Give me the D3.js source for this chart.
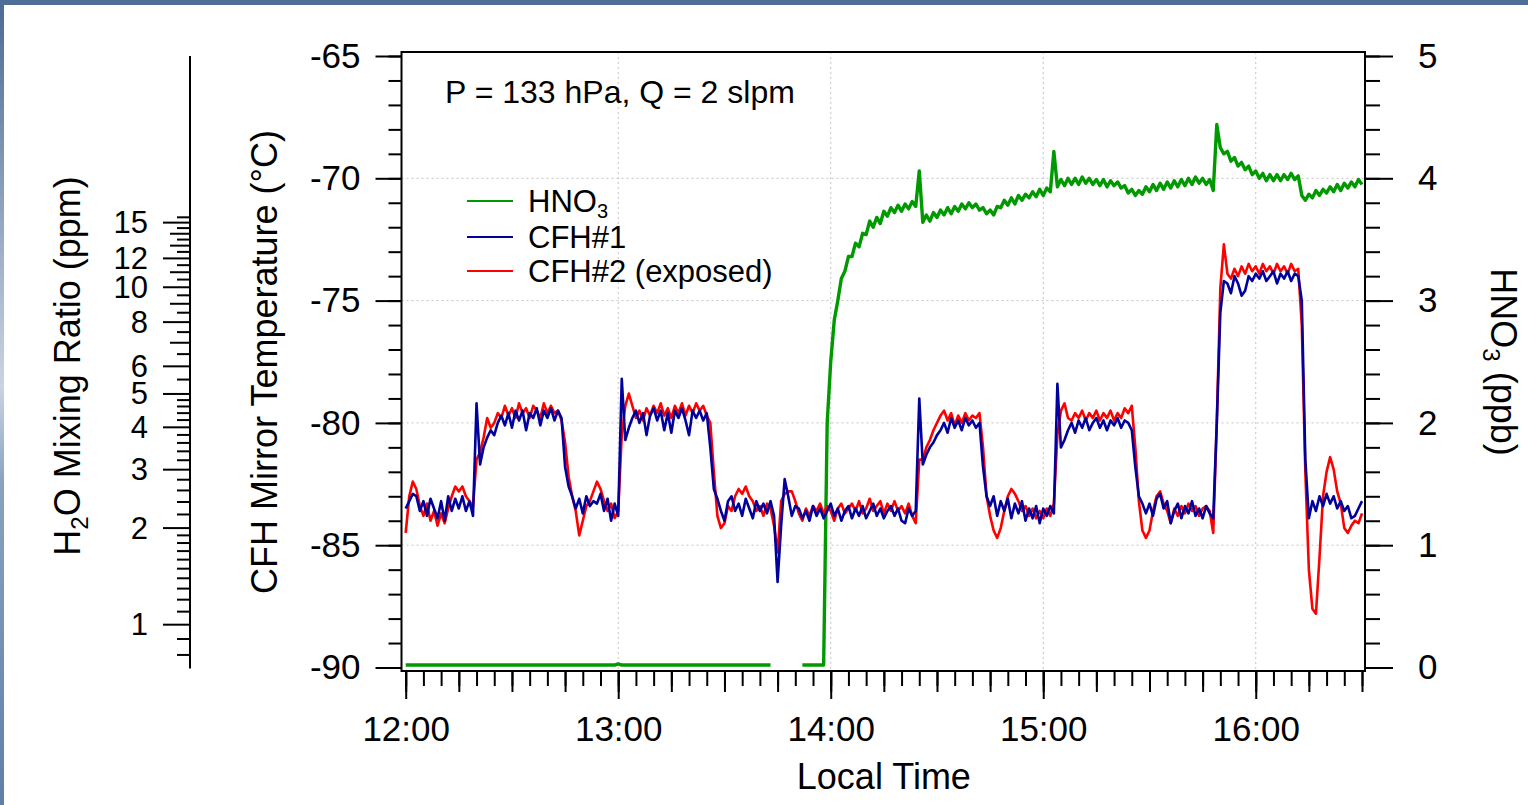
<!DOCTYPE html>
<html>
<head>
<meta charset="utf-8">
<script src="https://cdn.jsdelivr.net/npm/d3@7"></script>
<style>
  html, body { margin: 0; padding: 0; background: #fff; }
  svg { display: block; font-family: "Liberation Sans", Arial, Helvetica, sans-serif; }
  .tick line { stroke: #000; stroke-width: 2; }
  .tick text { fill: #000; }
</style>
</head>
<body>
<svg id="chart" width="1528" height="805"></svg>
<script>
// minutes after 12:00, one value per minute
const cfh1 = [
  -83.5,-83.2,-82.9,-83.0,-83.6,-83.2,-83.8,-83.1,-83.5,-83.9,
  -83.2,-84.0,-83.0,-83.6,-83.1,-83.5,-83.0,-83.6,-83.2,-83.8,
  -79.2,-81.7,-81.0,-80.6,-80.3,-80.5,-80.0,-79.7,-80.1,-79.6,
  -80.2,-79.5,-79.9,-79.5,-80.3,-79.6,-79.8,-79.4,-80.1,-79.5,
  -79.8,-79.4,-79.9,-79.5,-79.8,-81.8,-82.6,-83.0,-83.5,-83.1,
  -83.7,-83.0,-83.4,-83.2,-83.3,-82.9,-83.6,-83.1,-84.0,-83.3,
  -83.8,-78.2,-80.7,-80.2,-79.8,-79.5,-80.0,-79.6,-80.5,-79.7,
  -79.4,-79.9,-79.5,-80.3,-79.6,-80.4,-79.5,-79.8,-79.4,-79.9,
  -80.5,-79.5,-79.8,-79.5,-79.9,-79.6,-81.0,-82.7,-83.1,-83.6,
  -84.0,-83.2,-83.0,-83.6,-83.3,-83.8,-83.1,-83.5,-83.9,-83.2,
  -83.6,-83.3,-83.7,-83.2,-83.8,-86.5,-84.2,-82.3,-83.0,-83.8,
  -83.4,-83.5,-83.9,-83.6,-84.0,-83.4,-83.8,-83.5,-83.9,-83.6,
  -83.3,-83.8,-83.5,-84.0,-83.6,-83.4,-83.9,-83.5,-83.8,-83.4,
  -83.9,-83.6,-83.3,-83.8,-83.5,-83.9,-83.6,-83.4,-83.8,-83.5,
  -84.0,-84.1,-83.5,-83.8,-83.6,-79.0,-81.7,-81.3,-81.0,-80.8,
  -80.5,-80.3,-80.0,-80.4,-79.8,-80.2,-79.9,-80.3,-79.8,-80.1,
  -79.9,-80.2,-80.0,-81.8,-83.0,-83.4,-83.0,-83.8,-83.2,-83.6,
  -83.1,-83.9,-83.3,-83.7,-83.2,-84.0,-83.5,-83.9,-83.4,-84.1,
  -83.5,-83.8,-83.4,-83.7,-78.4,-81.0,-80.7,-80.3,-80.0,-80.4,
  -79.9,-80.2,-79.8,-80.3,-80.0,-79.8,-80.2,-79.9,-80.3,-79.9,
  -80.1,-79.8,-80.2,-79.9,-80.0,-80.3,-81.8,-83.0,-83.3,-83.7,
  -83.3,-83.8,-83.1,-82.9,-83.5,-83.2,-84.1,-83.6,-83.3,-83.9,
  -83.4,-83.7,-83.2,-83.8,-83.5,-83.9,-83.4,-83.7,-83.9,-80.0,
  -75.5,-74.2,-74.3,-74.7,-74.0,-74.3,-74.8,-74.6,-74.0,-74.2,
  -73.9,-74.1,-73.8,-74.2,-74.0,-73.8,-74.3,-73.9,-74.1,-73.8,
  -74.2,-73.9,-74.0,-75.0,-81.5,-83.9,-83.2,-83.6,-83.0,-83.4,
  -82.9,-83.3,-83.0,-83.5,-83.2,-83.6,-83.4,-83.9,-83.8,-83.5,
  -83.2
];

const cfh2 = [
  -84.5,-83.0,-82.4,-82.7,-83.4,-83.8,-83.3,-84.0,-83.6,-84.2,
  -83.7,-84.1,-83.5,-83.0,-82.6,-82.8,-82.6,-83.0,-83.2,-83.4,
  -81.5,-81.2,-80.6,-79.8,-80.2,-80.0,-79.6,-79.8,-79.3,-79.7,
  -79.4,-79.8,-79.2,-79.6,-79.4,-79.8,-79.3,-79.5,-79.8,-79.2,
  -79.6,-79.3,-79.6,-79.5,-79.9,-80.8,-82.2,-83.0,-83.6,-84.6,
  -84.0,-83.4,-83.2,-82.8,-82.4,-82.7,-83.2,-83.6,-83.3,-83.9,
  -83.6,-80.5,-79.3,-78.8,-79.3,-79.8,-79.5,-79.9,-79.4,-79.7,
  -79.3,-79.6,-79.2,-79.7,-79.4,-79.8,-79.3,-79.6,-79.2,-79.7,
  -79.3,-79.6,-79.2,-79.5,-79.3,-79.7,-80.0,-82.0,-83.8,-84.3,
  -84.1,-83.4,-83.6,-83.0,-82.7,-82.9,-82.6,-83.0,-83.2,-83.6,
  -83.4,-83.8,-83.3,-83.5,-84.2,-85.3,-83.2,-82.9,-82.8,-82.8,
  -83.2,-83.7,-84.0,-83.5,-83.8,-83.4,-83.6,-83.3,-83.7,-83.4,
  -83.6,-84.0,-83.5,-83.3,-83.7,-83.5,-83.3,-83.6,-83.2,-83.7,
  -83.5,-83.1,-83.6,-83.4,-83.2,-83.7,-83.3,-83.6,-83.2,-83.6,
  -83.4,-83.7,-83.3,-83.8,-84.1,-81.5,-81.5,-81.0,-80.7,-80.3,
  -80.0,-79.7,-79.5,-79.9,-79.6,-80.1,-79.7,-80.0,-79.6,-79.9,
  -79.7,-79.8,-79.6,-81.0,-83.0,-83.8,-84.4,-84.7,-84.3,-83.6,
  -83.0,-82.7,-82.9,-83.2,-83.6,-83.4,-83.8,-83.5,-83.9,-83.6,
  -83.9,-83.5,-83.8,-83.3,-80.5,-79.5,-79.2,-79.8,-79.9,-79.6,
  -79.8,-79.5,-79.9,-79.6,-79.8,-79.5,-79.9,-79.6,-79.8,-79.5,
  -79.9,-79.6,-79.8,-79.4,-79.6,-79.3,-81.0,-83.2,-84.4,-84.7,
  -84.4,-83.6,-83.0,-82.8,-83.3,-83.6,-84.1,-83.5,-83.8,-83.4,
  -83.7,-83.3,-83.6,-83.4,-83.8,-83.5,-83.4,-83.6,-84.5,-80.0,
  -74.5,-72.7,-73.9,-74.1,-73.7,-74.0,-73.6,-73.9,-73.5,-73.8,
  -73.6,-73.9,-73.5,-73.8,-73.6,-73.9,-73.5,-73.8,-73.6,-73.9,
  -73.5,-73.8,-73.7,-76.0,-82.0,-86.0,-87.6,-87.8,-85.5,-83.0,
  -82.0,-81.4,-81.9,-82.8,-83.3,-84.3,-84.5,-84.2,-84.0,-84.1,
  -83.7
];

// HNO3 (ppb); null = no data
const hno3 = [
  0.02,0.02,0.02,0.02,0.02,0.02,0.02,0.02,0.02,0.02,
  0.02,0.02,0.02,0.02,0.02,0.02,0.02,0.02,0.02,0.02,
  0.02,0.02,0.02,0.02,0.02,0.02,0.02,0.02,0.02,0.02,
  0.02,0.02,0.02,0.02,0.02,0.02,0.02,0.02,0.02,0.02,
  0.02,0.02,0.02,0.02,0.02,0.02,0.02,0.02,0.02,0.02,
  0.02,0.02,0.02,0.02,0.02,0.02,0.02,0.02,0.02,0.02,
  0.03,0.02,0.02,0.02,0.02,0.02,0.02,0.02,0.02,0.02,
  0.02,0.02,0.02,0.02,0.02,0.02,0.02,0.02,0.02,0.02,
  0.02,0.02,0.02,0.02,0.02,0.02,0.02,0.02,0.02,0.02,
  0.02,0.02,0.02,0.02,0.02,0.02,0.02,0.02,0.02,0.02,
  0.02,0.02,0.02,0.02,null,null,null,null,null,null,
  null,null,0.02,0.02,0.02,0.02,0.02,0.02,0.02,2.00,
  2.50,2.84,3.00,3.18,3.24,3.36,3.36,3.47,3.44,3.55,
  3.54,3.65,3.60,3.68,3.63,3.73,3.69,3.76,3.72,3.78,
  3.73,3.79,3.75,3.81,3.77,4.06,3.64,3.70,3.65,3.72,
  3.68,3.74,3.70,3.76,3.71,3.77,3.73,3.79,3.75,3.80,
  3.76,3.79,3.74,3.76,3.71,3.74,3.70,3.77,3.76,3.82,
  3.78,3.84,3.79,3.86,3.82,3.87,3.84,3.89,3.85,3.91,
  3.86,3.92,3.89,4.22,3.93,3.99,3.94,4.00,3.95,4.00,
  3.95,4.01,3.96,4.00,3.95,3.99,3.94,3.99,3.93,3.98,
  3.94,3.97,3.92,3.94,3.88,3.91,3.86,3.90,3.87,3.93,
  3.89,3.95,3.90,3.96,3.91,3.97,3.92,3.98,3.93,3.99,
  3.94,4.00,3.95,4.01,3.96,4.00,3.95,3.99,3.90,4.44,
  4.25,4.20,4.22,4.14,4.17,4.10,4.13,4.07,4.10,4.03,
  4.06,4.00,4.04,3.98,4.03,3.98,4.03,3.98,4.03,3.99,
  4.04,3.99,4.02,3.86,3.82,3.87,3.84,3.90,3.86,3.91,
  3.88,3.93,3.89,3.95,3.90,3.96,3.92,3.97,3.93,3.99,
  3.95
];

const seriesNames = ["HNO3", "CFH#1", "CFH#2 (exposed)"];
const seriesColors = ["#009a00", "#00009c", "#ff0000"];

const tempTicks = [-90, -85, -80, -75, -70, -65];
const hno3Ticks = [0, 1, 2, 3, 4, 5];
const h2oLabelled = [1, 2, 3, 4, 5, 6, 8, 10, 12, 15];
const h2oMedium = [7, 9, 11, 13, 14];
const h2oMinor = [0.8, 0.9, 1.1, 1.2, 1.3, 1.4, 1.5, 1.6, 1.7, 1.8, 1.9,
  2.2, 2.4, 2.6, 2.8, 3.2, 3.4, 3.6, 3.8, 4.2, 4.4, 4.6, 4.8,
  5.5, 6.5, 7.5, 8.5, 9.5, 10.5, 11.5, 12.5, 13.5, 14.5, 15.5];
const pressurePa = 13300;

const svg = d3.select("#chart");
const W = 1528, H = 805;
const frame = { left: 401.5, right: 1365, top: 52, bottom: 671 };
const h2oAxisX = 190;
const font = "'Liberation Sans', Arial, Helvetica, sans-serif";

// slide-like border
const defs = svg.append("defs");
const edge = defs.append("linearGradient").attr("id", "edge").attr("x1", 0).attr("y1", 0).attr("x2", 0).attr("y2", 1);
edge.append("stop").attr("offset", "0%").attr("stop-color", "#4d6a93");
edge.append("stop").attr("offset", "48%").attr("stop-color", "#c9d4e2");
edge.append("stop").attr("offset", "60%").attr("stop-color", "#8aa2c0");
edge.append("stop").attr("offset", "100%").attr("stop-color", "#5f7fa8");
svg.append("rect").attr("width", W).attr("height", H).attr("fill", "url(#edge)");
svg.append("rect").attr("width", W).attr("height", 5).attr("fill", "#4f6d96");
svg.append("rect").attr("x", 4).attr("y", 5).attr("width", W - 4).attr("height", H - 5).attr("fill", "#fff");

defs.append("clipPath").attr("id", "plot-clip")
  .append("rect")
  .attr("x", frame.left).attr("y", frame.top)
  .attr("width", frame.right - frame.left).attr("height", frame.bottom - frame.top);

const t0 = new Date(2000, 0, 1, 12, 0);
const t1 = new Date(2000, 0, 1, 16, 30);
const x = d3.scaleTime().domain([t0, t1]).range([405.7, 1362]);
const y = d3.scaleLinear().domain([-90, -65]).range([667.5, 56]);
const yR = d3.scaleLinear().domain([0, 5]).range([667.5, 56]);

const timeAt = (i) => d3.timeMinute.offset(t0, i);

// ice saturation vapour pressure (Murphy & Koop 2005), Pa
function eIce(T) {
  return Math.exp(9.550426 - 5723.265 / T + 3.53068 * Math.log(T) - 0.00728332 * T);
}
// frost point (degC) for a mixing ratio in ppm
function frostPoint(ppm) {
  const e = ppm * 1e-6 * pressurePa;
  let lo = 150, hi = 273;
  for (let k = 0; k < 60; k++) {
    const mid = (lo + hi) / 2;
    if (eIce(mid) < e) lo = mid; else hi = mid;
  }
  return (lo + hi) / 2 - 273.15;
}

// grid
const grid = svg.append("g").attr("stroke", "#c4c4c4").attr("stroke-width", 1).attr("stroke-dasharray", "2,3");
grid.selectAll("line.v")
  .data(x.ticks(d3.timeHour.every(1)).filter((d) => d > t0 && d < t1))
  .join("line")
  .attr("x1", (d) => x(d)).attr("x2", (d) => x(d))
  .attr("y1", frame.top).attr("y2", frame.bottom);
grid.selectAll("line.h")
  .data(tempTicks.filter((d) => d > -90 && d < -65))
  .join("line")
  .attr("x1", frame.left).attr("x2", frame.right)
  .attr("y1", (d) => y(d)).attr("y2", (d) => y(d));

// data lines
const plot = svg.append("g").attr("clip-path", "url(#plot-clip)");
const line = d3.line()
  .defined((d) => d != null)
  .x((d, i) => x(timeAt(i)))
  .y((d) => y(d));
const lineR = d3.line()
  .defined((d) => d != null)
  .x((d, i) => x(timeAt(i)))
  .y((d) => yR(d));

plot.append("path").datum(hno3).attr("d", lineR)
  .attr("fill", "none").attr("stroke", seriesColors[0]).attr("stroke-width", 3.4).attr("stroke-linejoin", "round");
plot.append("path").datum(cfh2).attr("d", line)
  .attr("fill", "none").attr("stroke", seriesColors[2]).attr("stroke-width", 2.6).attr("stroke-linejoin", "round");
plot.append("path").datum(cfh1).attr("d", line)
  .attr("fill", "none").attr("stroke", seriesColors[1]).attr("stroke-width", 2.6).attr("stroke-linejoin", "round");

// frame
svg.append("rect")
  .attr("x", frame.left).attr("y", frame.top)
  .attr("width", frame.right - frame.left).attr("height", frame.bottom - frame.top)
  .attr("fill", "none").attr("stroke", "#000").attr("stroke-width", 2);

function noDomain(g) { g.select(".domain").remove(); }

// bottom axis
svg.append("g").attr("transform", `translate(0,${frame.bottom})`)
  .call(d3.axisBottom(x).ticks(d3.timeMinute.every(5)).tickSize(15).tickFormat(""))
  .call(noDomain);
svg.append("g").attr("transform", `translate(0,${frame.bottom})`)
  .call(d3.axisBottom(x).ticks(d3.timeMinute.every(15)).tickSize(21).tickFormat(""))
  .call(noDomain);
svg.append("g").attr("transform", `translate(0,${frame.bottom})`)
  .call(d3.axisBottom(x).ticks(d3.timeHour.every(1)).tickSize(28).tickPadding(17).tickFormat(d3.timeFormat("%H:%M")))
  .call(noDomain)
  .call((g) => g.selectAll("text").attr("font-size", 35).attr("font-family", font));

// left axis
svg.append("g").attr("transform", `translate(${frame.left},0)`)
  .call(d3.axisLeft(y).tickValues(d3.range(-90, -64, 1)).tickSize(13).tickFormat(""))
  .call(noDomain);
svg.append("g").attr("transform", `translate(${frame.left},0)`)
  .call(d3.axisLeft(y).tickValues(tempTicks).tickSize(26).tickPadding(15).tickFormat((d) => String(d)))
  .call(noDomain)
  .call((g) => g.selectAll("text").attr("font-size", 35).attr("font-family", font));

// right axis
svg.append("g").attr("transform", `translate(${frame.right},0)`)
  .call(d3.axisRight(yR).tickValues(d3.range(0, 5.01, 0.2)).tickSize(15).tickFormat(""))
  .call(noDomain);
svg.append("g").attr("transform", `translate(${frame.right},0)`)
  .call(d3.axisRight(yR).tickValues(hno3Ticks).tickSize(28).tickPadding(25).tickFormat(d3.format("d")))
  .call(noDomain)
  .call((g) => g.selectAll("text").attr("font-size", 35).attr("font-family", font));

// H2O mixing ratio axis (frost point at P = 133 hPa)
const h2o = svg.append("g");
h2o.append("line")
  .attr("x1", h2oAxisX).attr("x2", h2oAxisX)
  .attr("y1", y(-65)).attr("y2", y(-90) + 1)
  .attr("stroke", "#000").attr("stroke-width", 2);
const h2oTicks = [
  ...h2oMinor.map((v) => ({ v, len: 13 })),
  ...h2oMedium.map((v) => ({ v, len: 20 })),
  ...h2oLabelled.map((v) => ({ v, len: 27 }))
].filter((d) => frostPoint(d.v) >= -90 && frostPoint(d.v) <= -65);
h2o.selectAll("line.tk")
  .data(h2oTicks)
  .join("line")
  .attr("x1", h2oAxisX).attr("x2", (d) => h2oAxisX - d.len)
  .attr("y1", (d) => y(frostPoint(d.v))).attr("y2", (d) => y(frostPoint(d.v)))
  .attr("stroke", "#000").attr("stroke-width", 2);
h2o.selectAll("text")
  .data(h2oLabelled)
  .join("text")
  .attr("x", 148)
  .attr("y", (d) => y(frostPoint(d)))
  .attr("dy", "0.34em")
  .attr("text-anchor", "end")
  .attr("font-size", 31)
  .text((d) => d);

// axis titles
svg.append("text")
  .attr("transform", `translate(${(405.7 + 1362) / 2},789)`)
  .attr("text-anchor", "middle").attr("font-size", 36)
  .text("Local Time");
svg.append("text")
  .attr("transform", "translate(277,362) rotate(-90)")
  .attr("text-anchor", "middle").attr("font-size", 36)
  .text("CFH Mirror Temperature (°C)");
const h2oTitle = svg.append("text")
  .attr("transform", "translate(80,366) rotate(-90)")
  .attr("text-anchor", "middle").attr("font-size", 36);
h2oTitle.append("tspan").text("H");
h2oTitle.append("tspan").attr("font-size", 24).attr("dy", 8).text("2");
h2oTitle.append("tspan").attr("dy", -8).text("O Mixing Ratio (ppm)");
const hTitle = svg.append("text")
  .attr("transform", "translate(1491,362) rotate(90)")
  .attr("text-anchor", "middle").attr("font-size", 36);
hTitle.append("tspan").text("HNO");
hTitle.append("tspan").attr("font-size", 24).attr("dy", 8).text("3");
hTitle.append("tspan").attr("dy", -8).text(" (ppb)");

// annotation
svg.append("text").attr("x", 445).attr("y", 103).attr("font-size", 32)
  .text("P = 133 hPa, Q = 2 slpm");

// legend
const legendRows = [201, 237, 271];
const legend = svg.append("g");
seriesNames.forEach((name, i) => {
  legend.append("line")
    .attr("x1", 467).attr("x2", 513)
    .attr("y1", legendRows[i]).attr("y2", legendRows[i])
    .attr("stroke", seriesColors[i]).attr("stroke-width", 2);
  const t = legend.append("text").attr("x", 528).attr("y", legendRows[i] + 11).attr("font-size", 31);
  if (name === "HNO3") {
    t.append("tspan").text("HNO");
    t.append("tspan").attr("font-size", 20).attr("dy", 6).text("3");
  } else {
    t.text(name);
  }
});
</script>
</body>
</html>
